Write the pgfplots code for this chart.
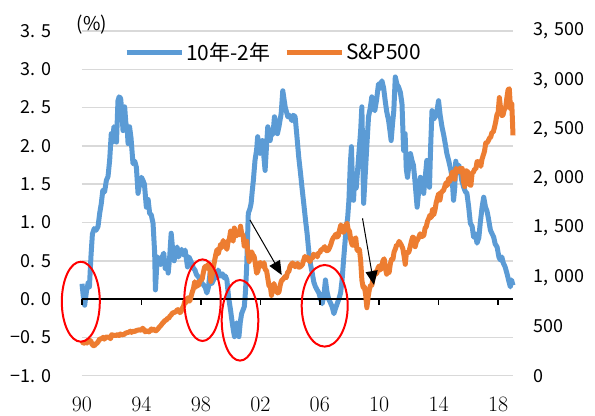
\documentclass[border=0pt]{standalone}
\usepackage{fontspec}
\usepackage{pgfplots}
\pgfplotsset{compat=1.18}
\usetikzlibrary{arrows.meta}
\newfontfamily\jp{Noto Sans CJK JP}
\definecolor{spread}{HTML}{5B9BD5}
\definecolor{spx}{HTML}{ED7D31}
\definecolor{gridgray}{HTML}{D9D9D9}
\newcommand{\tl}[2]{#1.\hspace{0.38em}#2}
\newcommand{\tr}[2]{#1,\hspace{0.38em}#2}

% 10-year minus 2-year Treasury spread (%)
\pgfplotstableread{
t v
1990.00 0.20
1990.08 0.05
1990.18 -0.08
1990.30 0.10
1990.42 0.22
1990.50 0.16
1990.60 0.55
1990.70 0.85
1990.82 0.92
1990.95 0.90
1991.08 0.95
1991.19 1.12
1991.30 1.25
1991.40 1.42
1991.52 1.40
1991.64 1.55
1991.75 1.60
1991.86 1.81
1991.97 2.16
1992.05 2.05
1992.15 2.25
1992.25 2.20
1992.32 2.05
1992.42 2.59
1992.50 2.64
1992.60 2.62
1992.68 2.45
1992.76 2.20
1992.87 2.51
1992.95 2.30
1993.05 2.20
1993.10 2.03
1993.20 2.25
1993.30 2.10
1993.43 1.77
1993.55 1.80
1993.66 1.72
1993.77 1.38
1993.88 1.50
1994.00 1.59
1994.10 1.55
1994.20 1.50
1994.33 1.20
1994.45 1.30
1994.55 1.12
1994.66 1.10
1994.78 0.99
1994.89 0.60
1994.94 0.12
1995.02 0.40
1995.10 0.55
1995.20 0.50
1995.30 0.45
1995.40 0.55
1995.50 0.60
1995.60 0.40
1995.70 0.50
1995.80 0.34
1995.90 0.55
1996.00 0.86
1996.10 0.65
1996.20 0.50
1996.30 0.62
1996.40 0.68
1996.50 0.55
1996.60 0.60
1996.70 0.65
1996.80 0.58
1996.94 0.64
1997.10 0.42
1997.20 0.55
1997.38 0.47
1997.50 0.40
1997.60 0.38
1997.70 0.32
1997.83 0.29
1997.95 0.25
1998.06 0.21
1998.20 0.18
1998.30 0.15
1998.40 0.08
1998.50 0.15
1998.62 0.34
1998.72 0.20
1998.85 0.25
1998.95 0.30
1999.05 0.28
1999.16 0.38
1999.30 0.30
1999.45 0.33
1999.55 0.28
1999.65 0.30
1999.75 0.25
1999.86 0.03
2000.00 -0.15
2000.08 -0.27
2000.18 -0.40
2000.26 -0.49
2000.33 -0.35
2000.40 -0.31
2000.48 -0.40
2000.56 -0.49
2000.65 -0.30
2000.74 -0.19
2000.82 -0.15
2000.92 -0.10
2001.00 0.10
2001.08 0.42
2001.19 1.12
2001.30 1.18
2001.38 1.25
2001.45 1.40
2001.53 1.55
2001.64 1.81
2001.75 1.95
2001.82 2.12
2001.90 1.95
2001.98 1.90
2002.06 1.95
2002.14 2.07
2002.22 1.90
2002.32 1.68
2002.40 1.95
2002.50 2.25
2002.58 2.20
2002.66 2.07
2002.75 2.20
2002.85 2.15
2002.95 2.38
2003.05 2.30
2003.15 2.16
2003.25 2.25
2003.40 2.42
2003.51 2.72
2003.60 2.60
2003.67 2.51
2003.75 2.45
2003.85 2.38
2003.95 2.40
2004.05 2.36
2004.12 2.33
2004.22 2.40
2004.34 2.38
2004.45 2.15
2004.58 1.86
2004.70 1.65
2004.80 1.46
2004.92 1.25
2005.04 1.03
2005.15 0.85
2005.27 0.60
2005.38 0.45
2005.50 0.33
2005.60 0.22
2005.71 0.16
2005.82 0.12
2005.94 0.08
2006.05 0.00
2006.16 -0.06
2006.28 0.05
2006.38 0.25
2006.48 0.10
2006.60 0.00
2006.72 -0.05
2006.83 -0.10
2006.95 -0.19
2007.06 -0.12
2007.17 -0.06
2007.28 0.00
2007.40 0.08
2007.50 0.25
2007.60 0.51
2007.70 0.75
2007.78 0.94
2007.87 1.05
2007.96 1.29
2008.05 1.75
2008.13 1.99
2008.20 1.50
2008.27 1.29
2008.35 1.60
2008.45 1.45
2008.55 1.70
2008.65 1.95
2008.75 2.20
2008.83 2.51
2008.95 1.25
2009.05 1.60
2009.15 1.95
2009.28 2.38
2009.40 2.50
2009.50 2.64
2009.60 2.50
2009.70 2.46
2009.82 2.60
2009.95 2.81
2010.05 2.75
2010.18 2.85
2010.30 2.75
2010.40 2.59
2010.50 2.45
2010.63 2.33
2010.72 2.20
2010.80 2.07
2010.90 2.30
2010.98 2.46
2011.08 2.90
2011.20 2.80
2011.30 2.77
2011.42 2.70
2011.53 2.55
2011.64 1.94
2011.74 2.16
2011.82 1.70
2011.90 1.59
2012.00 1.75
2012.10 1.90
2012.20 1.81
2012.30 1.75
2012.40 1.55
2012.55 1.20
2012.65 1.40
2012.77 1.59
2012.88 1.45
2012.99 1.38
2013.10 1.60
2013.20 1.81
2013.30 1.55
2013.38 1.46
2013.46 2.00
2013.55 2.46
2013.65 2.35
2013.77 2.38
2013.88 2.45
2013.99 2.59
2014.10 2.40
2014.22 2.25
2014.33 2.15
2014.44 2.03
2014.55 1.90
2014.67 1.81
2014.80 1.70
2014.90 1.59
2015.00 1.29
2015.08 1.45
2015.15 1.80
2015.25 1.65
2015.35 1.75
2015.45 1.68
2015.55 1.55
2015.68 1.46
2015.80 1.40
2015.90 1.38
2016.02 1.20
2016.13 0.99
2016.25 0.95
2016.35 0.81
2016.47 0.85
2016.58 0.73
2016.70 0.80
2016.80 1.00
2016.92 1.20
2017.03 1.33
2017.15 1.20
2017.25 1.15
2017.35 1.05
2017.48 0.90
2017.60 0.85
2017.70 0.81
2017.80 0.72
2017.93 0.68
2018.05 0.55
2018.15 0.51
2018.25 0.55
2018.35 0.47
2018.47 0.42
2018.60 0.33
2018.70 0.25
2018.82 0.16
2018.90 0.25
2019.00 0.18
}\spreadtab

\pgfplotsset{
  base/.style={
    scale only axis, width=431bp, height=344.7bp,
    at={(0bp,0bp)}, anchor=south west,
    xmin=1990, xmax=2019, clip=false,
    axis line style={draw=none},
    major tick length=0pt,
  },
}

\begin{document}
\begin{tikzpicture}
\path[use as bounding box] (-82bp,-40.3bp) rectangle (513bp,375.7bp);

\begin{axis}[base,
  ymin=-1, ymax=3.5,
  ytick={-1,-0.5,0,0.5,1,1.5,2,2.5,3,3.5},
  yticklabels={−\tl{1}{0},−\tl{0}{5},\tl{0}{0},\tl{0}{5},\tl{1}{0},\tl{1}{5},\tl{2}{0},\tl{2}{5},\tl{3}{0},\tl{3}{5}},
  yticklabel style={font=\jp\fontsize{18}{18}\selectfont, anchor=east, inner sep=0pt, xshift=-30bp},
  ymajorgrids, grid style={gridgray, line width=1.5bp},
  xtick={1990,1994,1998,2002,2006,2010,2014,2018},
  xticklabels={90,94,98,02,06,10,14,18},
  xticklabel style={font=\fontsize{22}{22}\selectfont, anchor=north, inner sep=0pt, yshift=-21bp},
]
\addplot[spread, line width=5bp, line join=round] table[x=t, y=v] {\spreadtab};
% zero line with downward ticks
\draw[black, line width=2bp] (axis cs:1990,0) -- (axis cs:2019,0);
\pgfplotsinvokeforeach{1990,1994,1998,2002,2006,2010,2014,2018}{
  \draw[black, line width=1.5bp] (axis cs:#1,0) -- ++(0bp,-6bp);
}
\end{axis}

\begin{axis}[base,
  ymin=0, ymax=3500,
  axis y line*=right, hide x axis,
  ytick={0,500,1000,1500,2000,2500,3000,3500},
  yticklabels={0,500,\tr{1}{000},\tr{1}{500},\tr{2}{000},\tr{2}{500},\tr{3}{000},\tr{3}{500}},
  yticklabel style={font=\jp\fontsize{18}{18}\selectfont, anchor=west, inner sep=0pt, xshift=20bp},
  legend style={at={(0.0975,0.939)}, anchor=west, draw=none, fill=none,
    font=\jp\fontsize{21}{21}\selectfont, inner sep=0pt,
    /tikz/every even column/.append style={column sep=12bp}},
  legend columns=2, legend cell align=left,
  legend image code/.code={\draw[line width=5bp] (0bp,0bp) -- (55bp,0bp);},
]
\addlegendimage{spread, line width=5bp}
\addlegendentry{10年-2年}
% S&P 500 index level
\addplot[spx, line width=5bp, line join=round] coordinates {
(1990.000,353)
(1990.083,329) (1990.167,332) (1990.250,340) (1990.333,331) (1990.417,361) (1990.500,358) (1990.583,356) (1990.667,323) (1990.750,306) (1990.833,304) (1990.917,322) (1991.000,330)
(1991.083,344) (1991.167,367) (1991.250,375) (1991.333,375) (1991.417,390) (1991.500,371) (1991.583,388) (1991.667,395) (1991.750,388) (1991.833,392) (1991.917,375) (1992.000,417)
(1992.083,409) (1992.167,413) (1992.250,404) (1992.333,415) (1992.417,415) (1992.500,408) (1992.583,424) (1992.667,414) (1992.750,418) (1992.833,419) (1992.917,431) (1993.000,436)
(1993.083,439) (1993.167,443) (1993.250,452) (1993.333,440) (1993.417,450) (1993.500,451) (1993.583,448) (1993.667,464) (1993.750,459) (1993.833,468) (1993.917,462) (1994.000,466)
(1994.083,482) (1994.167,467) (1994.250,446) (1994.333,451) (1994.417,457) (1994.500,444) (1994.583,458) (1994.667,475) (1994.750,463) (1994.833,472) (1994.917,454) (1995.000,459)
(1995.083,470) (1995.167,487) (1995.250,501) (1995.333,515) (1995.417,533) (1995.500,545) (1995.583,562) (1995.667,562) (1995.750,584) (1995.833,582) (1995.917,605) (1996.000,616)
(1996.083,636) (1996.167,640) (1996.250,645) (1996.333,654) (1996.417,669) (1996.500,671) (1996.583,640) (1996.667,652) (1996.750,687) (1996.833,705) (1996.917,757) (1997.000,741)
(1997.083,786) (1997.167,791) (1997.250,757) (1997.333,801) (1997.417,848) (1997.500,885) (1997.583,954) (1997.667,899) (1997.750,947) (1997.833,915) (1997.917,955) (1998.000,970)
(1998.083,980) (1998.167,1049) (1998.250,1102) (1998.333,1112) (1998.417,1091) (1998.500,1134) (1998.583,1121) (1998.667,957) (1998.750,1017) (1998.833,1099) (1998.917,1164) (1999.000,1229)
(1999.083,1280) (1999.167,1238) (1999.250,1286) (1999.333,1335) (1999.417,1302) (1999.500,1373) (1999.583,1329) (1999.667,1320) (1999.750,1283) (1999.833,1363) (1999.917,1389) (2000.000,1469)
(2000.083,1394) (2000.167,1366) (2000.250,1499) (2000.333,1452) (2000.417,1421) (2000.500,1455) (2000.583,1431) (2000.667,1518) (2000.750,1437) (2000.833,1429) (2000.917,1315) (2001.000,1320)
(2001.083,1366) (2001.167,1240) (2001.250,1160) (2001.333,1249) (2001.417,1256) (2001.500,1224) (2001.583,1211) (2001.667,1134) (2001.750,1041) (2001.833,1060) (2001.917,1139) (2002.000,1148)
(2002.083,1130) (2002.167,1107) (2002.250,1147) (2002.333,1077) (2002.417,1067) (2002.500,990) (2002.583,912) (2002.667,916) (2002.750,815) (2002.833,886) (2002.917,936) (2003.000,880)
(2003.083,856) (2003.167,841) (2003.250,848) (2003.333,917) (2003.417,964) (2003.500,975) (2003.583,990) (2003.667,1008) (2003.750,996) (2003.833,1051) (2003.917,1058) (2004.000,1112)
(2004.083,1131) (2004.167,1145) (2004.250,1126) (2004.333,1107) (2004.417,1121) (2004.500,1141) (2004.583,1102) (2004.667,1104) (2004.750,1115) (2004.833,1130) (2004.917,1174) (2005.000,1212)
(2005.083,1181) (2005.167,1204) (2005.250,1181) (2005.333,1157) (2005.417,1192) (2005.500,1191) (2005.583,1234) (2005.667,1220) (2005.750,1229) (2005.833,1207) (2005.917,1249) (2006.000,1248)
(2006.083,1280) (2006.167,1281) (2006.250,1295) (2006.333,1311) (2006.417,1270) (2006.500,1270) (2006.583,1277) (2006.667,1304) (2006.750,1336) (2006.833,1378) (2006.917,1401) (2007.000,1418)
(2007.083,1438) (2007.167,1407) (2007.250,1421) (2007.333,1482) (2007.417,1531) (2007.500,1503) (2007.583,1455) (2007.667,1474) (2007.750,1527) (2007.833,1549) (2007.917,1481) (2008.000,1468)
(2008.083,1379) (2008.167,1331) (2008.250,1323) (2008.333,1386) (2008.417,1400) (2008.500,1280) (2008.583,1267) (2008.667,1283) (2008.750,1166) (2008.833,969) (2008.917,896) (2009.000,903)
(2009.083,826) (2009.167,690) (2009.250,798) (2009.333,873) (2009.417,919) (2009.500,919) (2009.583,987) (2009.667,1021) (2009.750,1057) (2009.833,1036) (2009.917,1096) (2010.000,1115)
(2010.083,1074) (2010.167,1104) (2010.250,1169) (2010.333,1187) (2010.417,1089) (2010.500,1031) (2010.583,1102) (2010.667,1049) (2010.750,1141) (2010.833,1183) (2010.917,1181) (2011.000,1258)
(2011.083,1286) (2011.167,1327) (2011.250,1326) (2011.333,1364) (2011.417,1345) (2011.500,1321) (2011.583,1292) (2011.667,1219) (2011.750,1131) (2011.833,1253) (2011.917,1247) (2012.000,1258)
(2012.083,1312) (2012.167,1366) (2012.250,1408) (2012.333,1398) (2012.417,1310) (2012.500,1362) (2012.583,1379) (2012.667,1407) (2012.750,1441) (2012.833,1412) (2012.917,1416) (2013.000,1426)
(2013.083,1498) (2013.167,1515) (2013.250,1569) (2013.333,1598) (2013.417,1631) (2013.500,1606) (2013.583,1686) (2013.667,1633) (2013.750,1682) (2013.833,1757) (2013.917,1806) (2014.000,1848)
(2014.083,1783) (2014.167,1859) (2014.250,1872) (2014.333,1884) (2014.417,1924) (2014.500,1960) (2014.583,1931) (2014.667,2003) (2014.750,1972) (2014.833,2018) (2014.917,2068) (2015.000,2059)
(2015.083,1995) (2015.167,2105) (2015.250,2068) (2015.333,2086) (2015.417,2107) (2015.500,2063) (2015.583,2104) (2015.667,1972) (2015.750,1920) (2015.833,2079) (2015.917,2080) (2016.000,2044)
(2016.083,1940) (2016.167,1932) (2016.250,2060) (2016.333,2065) (2016.417,2097) (2016.500,2099) (2016.583,2174) (2016.667,2171) (2016.750,2168) (2016.833,2126) (2016.917,2199) (2017.000,2239)
(2017.083,2279) (2017.167,2364) (2017.250,2363) (2017.333,2384) (2017.417,2412) (2017.500,2423) (2017.583,2470) (2017.667,2472) (2017.750,2519) (2017.833,2575) (2017.917,2648) (2018.000,2674)
(2018.083,2824) (2018.167,2714) (2018.250,2641) (2018.333,2648) (2018.417,2705) (2018.500,2718) (2018.583,2816) (2018.667,2902) (2018.750,2914) (2018.833,2712) (2018.917,2760) (2018.960,2600) (2019.000,2440)
};
\addlegendentry{S\&P500}
\end{axis}

% unit label
\node[font=\jp\fontsize{19}{19}\selectfont, inner sep=0pt] at (10bp,350.7bp) {(\%)};

% highlighted inversion periods
\begin{scope}[red, line width=2bp]
\draw (-1.2bp,74bp) ellipse [x radius=19bp, y radius=40bp];
\draw (120.5bp,75.5bp) ellipse [x radius=18.2bp, y radius=40.8bp];
\draw (158bp,55.4bp) ellipse [x radius=18.3bp, y radius=40.3bp];
\draw (242.7bp,69.9bp) ellipse [x radius=23bp, y radius=40.8bp];
\end{scope}

% pointers to market troughs
\draw[black, line width=1bp, -{Triangle[length=14bp,width=12bp]}] (168bp,155.7bp) -- (199.7bp,100.7bp);
\draw[black, line width=1bp, -{Triangle[length=14bp,width=12bp]}] (280.5bp,157.4bp) -- (292bp,90.7bp);
\end{tikzpicture}
\end{document}
